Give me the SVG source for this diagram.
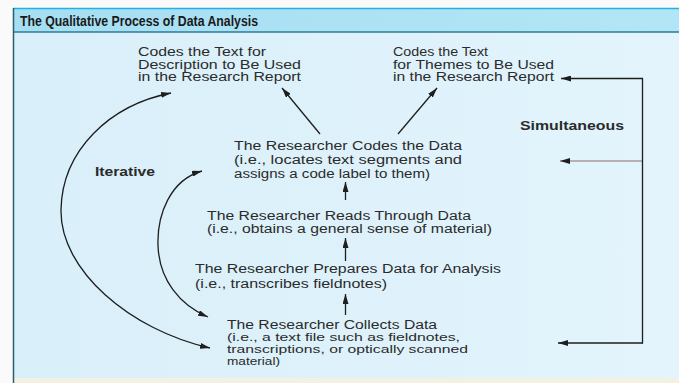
<svg xmlns="http://www.w3.org/2000/svg" width="679" height="383" viewBox="0 0 679 383">
<defs>
<style>
.t{font-family:"Liberation Sans",Arial,sans-serif;font-size:12px;fill:#2b2b2b}
.s{font-family:"Liberation Sans",Arial,sans-serif;font-size:11px;fill:#2b2b2b}
.b{font-family:"Liberation Sans",Arial,sans-serif;font-size:12px;font-weight:bold;fill:#2b2b2b}
.ttl{font-family:"Liberation Sans",Arial,sans-serif;font-size:14px;font-weight:bold;fill:#1a1a1a}
.c{fill:none;stroke:#1e1e1e;stroke-width:1.3}
.thin{fill:none;stroke:#7a4a4a;stroke-width:0.8}
</style>
<marker id="ah" viewBox="0 0 10 6" refX="10" refY="3" markerWidth="10" markerHeight="6" markerUnits="userSpaceOnUse" orient="auto-start-reverse">
<path d="M0,0 L10,3 L0,6 z" fill="#1e1e1e"/>
</marker>
<linearGradient id="bg" x1="0" y1="0" x2="1" y2="0">
<stop offset="0" stop-color="#d9eff9"/>
<stop offset="1" stop-color="#e3f4fc"/>
</linearGradient>
<linearGradient id="hd" x1="0" y1="0" x2="1" y2="0">
<stop offset="0" stop-color="#a6def2"/>
<stop offset="1" stop-color="#b2e6f6"/>
</linearGradient>
</defs>
<rect x="0" y="0" width="679" height="383" fill="#fafafa"/>
<rect x="13" y="8" width="666" height="370" fill="url(#bg)"/>
<rect x="13" y="9" width="666" height="23" fill="url(#hd)"/>
<rect x="13" y="378" width="666" height="5" fill="#f3f2e2"/>
<line x1="13" y1="8.5" x2="679" y2="8.5" stroke="#22b2e2" stroke-width="1.5"/>
<line x1="13" y1="32" x2="679" y2="32" stroke="#2b7c95" stroke-width="1.5"/>
<line x1="13.5" y1="8" x2="13.5" y2="383" stroke="#2c5f6e" stroke-width="1.5"/>
<text class="ttl" x="20" y="26" textLength="238" lengthAdjust="spacingAndGlyphs">The Qualitative Process of Data Analysis</text>

<g id="desc">
<text class="t" x="138" y="56" textLength="128" lengthAdjust="spacingAndGlyphs">Codes the Text for</text>
<text class="t" x="138" y="68.5" textLength="163" lengthAdjust="spacingAndGlyphs">Description to Be Used</text>
<text class="t" x="138" y="81" textLength="163" lengthAdjust="spacingAndGlyphs">in the Research Report</text>
</g>
<g id="themes">
<text class="t" x="393" y="56" textLength="95" lengthAdjust="spacingAndGlyphs">Codes the Text</text>
<text class="t" x="393" y="68.5" textLength="161" lengthAdjust="spacingAndGlyphs">for Themes to Be Used</text>
<text class="t" x="393" y="81" textLength="161" lengthAdjust="spacingAndGlyphs">in the Research Report</text>
</g>
<g id="codes">
<text class="t" x="234" y="149.5" textLength="228" lengthAdjust="spacingAndGlyphs">The Researcher Codes the Data</text>
<text class="t" x="234" y="163.5" textLength="228" lengthAdjust="spacingAndGlyphs">(i.e., locates text segments and</text>
<text class="t" x="234" y="177.5" textLength="196" lengthAdjust="spacingAndGlyphs">assigns a code label to them)</text>
</g>
<g id="reads">
<text class="t" x="207" y="220" textLength="264" lengthAdjust="spacingAndGlyphs">The Researcher Reads Through Data</text>
<text class="t" x="207" y="232.5" textLength="285" lengthAdjust="spacingAndGlyphs">(i.e., obtains a general sense of material)</text>
</g>
<g id="prepares">
<text class="t" x="195" y="272.5" textLength="306" lengthAdjust="spacingAndGlyphs">The Researcher Prepares Data for Analysis</text>
<text class="t" x="195" y="287.5" textLength="192" lengthAdjust="spacingAndGlyphs">(i.e., transcribes fieldnotes)</text>
</g>
<g id="collects">
<text class="t" x="227" y="328.5" textLength="210" lengthAdjust="spacingAndGlyphs">The Researcher Collects Data</text>
<text class="s" x="227" y="340.8" textLength="233" lengthAdjust="spacingAndGlyphs">(i.e., a text file such as fieldnotes,</text>
<text class="s" x="227" y="353.1" textLength="241" lengthAdjust="spacingAndGlyphs">transcriptions, or optically scanned</text>
<text class="s" x="227" y="365.4" textLength="53" lengthAdjust="spacingAndGlyphs">material)</text>
</g>
<g id="iterative">
<text class="b" x="95" y="176" textLength="60" lengthAdjust="spacingAndGlyphs">Iterative</text>
</g>
<g id="simultaneous">
<text class="b" x="520" y="129.5" textLength="104" lengthAdjust="spacingAndGlyphs">Simultaneous</text>
</g>

<g id="connectors">
<path class="c" d="M171,93 C110,105 62,150 61,210 C60,270 130,330 210,348" marker-start="url(#ah)" marker-end="url(#ah)"/>
<path class="c" d="M202,171 C170,180 157,215 158,245 C159,280 180,305 208,317" marker-start="url(#ah)" marker-end="url(#ah)"/>
<path class="c" d="M320,134 L282,88" marker-end="url(#ah)"/>
<path class="c" d="M398,134 L437,88" marker-end="url(#ah)"/>
<path class="c" d="M345.5,200 L345.5,182" marker-end="url(#ah)"/>
<path class="c" d="M345.5,261 L345.5,238" marker-end="url(#ah)"/>
<path class="c" d="M345.5,315 L345.5,294" marker-end="url(#ah)"/>
<path class="c" d="M642.5,78 L642.5,343.5"/>
<path class="c" d="M643,78.5 L561,78.5" marker-end="url(#ah)"/>
<path class="thin" d="M642,161 L560,161" marker-end="url(#ah)"/>
<path class="c" d="M643,343 L558,343" marker-end="url(#ah)"/>
</g>
</svg>
